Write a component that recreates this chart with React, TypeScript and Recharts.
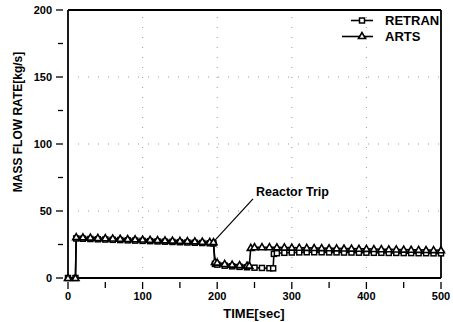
import { LineChart, Line, XAxis, YAxis, ReferenceLine, Label } from 'recharts';

const retranTime = [0, 10, 11, 20, 30, 40, 50, 60, 70, 80, 90, 100, 110, 120, 130, 140, 150, 160, 170, 180, 190, 195, 197, 200, 210, 220, 230, 240, 250, 260, 270, 275, 276, 280, 290, 300, 310, 320, 330, 340, 350, 360, 370, 380, 390, 400, 410, 420, 430, 440, 450, 460, 470, 480, 490, 500];
const retranFlow = [0, 0, 29.5, 29.3, 29.1, 28.9, 28.7, 28.5, 28.3, 28.1, 27.9, 27.7, 27.5, 27.3, 27.1, 26.9, 26.7, 26.5, 26.3, 26.1, 25.9, 25.8, 10.5, 10, 9.2, 8.7, 8.3, 8, 7.7, 7.5, 7.3, 7.2, 18, 18.5, 18.8, 19, 19.1, 19.2, 19.2, 19.2, 19.1, 19.1, 19, 19, 18.9, 18.9, 18.8, 18.8, 18.7, 18.7, 18.6, 18.6, 18.5, 18.5, 18.4, 18.4];

const artsTime = [0, 10, 11, 20, 30, 40, 50, 60, 70, 80, 90, 100, 110, 120, 130, 140, 150, 160, 170, 180, 190, 195, 197, 200, 210, 220, 230, 240, 243, 245, 250, 260, 270, 280, 290, 300, 310, 320, 330, 340, 350, 360, 370, 380, 390, 400, 410, 420, 430, 440, 450, 460, 470, 480, 490, 500];
const artsFlow = [0, 0, 30.5, 30.3, 30.1, 29.9, 29.7, 29.5, 29.3, 29.1, 28.9, 28.7, 28.5, 28.3, 28.1, 27.9, 27.7, 27.5, 27.3, 27.1, 26.9, 26.8, 12, 11.5, 10.5, 10, 9.6, 9.3, 9.2, 22.5, 23, 23, 23, 22.9, 22.8, 22.7, 22.6, 22.5, 22.4, 22.3, 22.2, 22.1, 22, 21.9, 21.8, 21.7, 21.6, 21.5, 21.4, 21.3, 21.2, 21.1, 21, 20.9, 20.8, 20.7];

const xTicks = [0, 50, 100, 150, 200, 250, 300, 350, 400, 450, 500];
const yTicks = [0, 25, 50, 75, 100, 125, 150, 175, 200];
const xGrid = [100, 200, 300, 400];
const yGrid = [50, 100, 150];

// annotation
const tripFrom = { x: 195, y: 27 };
const tripTo = { x: 248, y: 59 };

const retranData = retranTime.map((time, i) => ({ time, flow: retranFlow[i] }));
const artsData = artsTime.map((time, i) => ({ time, flow: artsFlow[i] }));

const FONT = '"Liberation Sans", Arial, sans-serif';

const SquareDot = (props: any) => {
  const { cx, cy, index } = props;
  if (cx == null || cy == null) return null;
  return <rect key={`s-${index}`} x={cx - 2.5} y={cy - 2.5} width={5} height={5} fill="#fff" stroke="#000" strokeWidth={1.5} />;
};

const TriangleDot = (props: any) => {
  const { cx, cy, index } = props;
  if (cx == null || cy == null) return null;
  return (
    <polygon
      key={`t-${index}`}
      points={`${cx},${cy - 3.5} ${cx - 3.5},${cy + 2.5} ${cx + 3.5},${cy + 2.5}`}
      fill="#fff"
      stroke="#000"
      strokeWidth={1.6}
    />
  );
};

const XTick = (props: any) => {
  const { x, y, payload } = props;
  const major = payload.value % 100 === 0;
  return (
    <g>
      <line x1={x} x2={x} y1={y - 4} y2={y + (major ? 3 : 2)} stroke="#000" strokeWidth={1.3} />
      {major && (
        <text x={x} y={y + 14} textAnchor="middle" fontFamily={FONT} fontWeight="bold" fontSize={11} fill="#000">
          {payload.value}
        </text>
      )}
    </g>
  );
};

const YTick = (props: any) => {
  const { x, y, payload } = props;
  const major = payload.value % 50 === 0;
  return (
    <g>
      <line x1={x - (major ? 4 : 2)} x2={x + 3} y1={y} y2={y} stroke="#000" strokeWidth={1.3} />
      {major && (
        <text x={x - 8} y={y + 4} textAnchor="end" fontFamily={FONT} fontWeight="bold" fontSize={11} fill="#000">
          {payload.value}
        </text>
      )}
    </g>
  );
};

export default function App() {
  return (
    <div style={{ position: 'absolute', left: 0, top: 0, width: 453, height: 322, background: '#fff' }}>
      <LineChart width={453} height={322} margin={{ top: 10, right: 12, bottom: 0, left: 0 }}>
        {xGrid.map((v) => (
          <ReferenceLine key={`gx${v}`} x={v} stroke="#999" strokeDasharray="1 9" />
        ))}
        {yGrid.map((v) => (
          <ReferenceLine key={`gy${v}`} y={v} stroke="#999" strokeDasharray="1 9" />
        ))}
        <ReferenceLine y={200} stroke="#000" strokeWidth={1.8} />
        <ReferenceLine x={500} stroke="#000" strokeWidth={1.8} />
        <XAxis
          dataKey="time"
          type="number"
          domain={[0, 500]}
          ticks={xTicks}
          interval={0}
          tick={<XTick />}
          tickLine={false}
          axisLine={{ stroke: '#000', strokeWidth: 1.8 }}
          height={44}
          allowDuplicatedCategory={false}
        >
          <Label
            content={() => (
              <text x={254} y={318} textAnchor="middle" fontFamily={FONT} fontWeight="bold" fontSize={13} fill="#000">
                TIME[sec]
              </text>
            )}
          />
        </XAxis>
        <YAxis
          type="number"
          domain={[0, 200]}
          ticks={yTicks}
          interval={0}
          tick={<YTick />}
          tickLine={false}
          axisLine={{ stroke: '#000', strokeWidth: 1.8 }}
          width={68}
        >
          <Label
            content={() => (
              <text
                x={22}
                y={122}
                transform="rotate(-90 22 122)"
                textAnchor="middle"
                fontFamily={FONT}
                fontWeight="bold"
                fontSize={12}
                fill="#000"
              >
                MASS FLOW RATE[kg/s]
              </text>
            )}
          />
        </YAxis>
        <Line
          data={retranData}
          dataKey="flow"
          type="linear"
          stroke="#000"
          strokeWidth={1.6}
          dot={<SquareDot />}
          activeDot={false}
          isAnimationActive={false}
        />
        <Line
          data={artsData}
          dataKey="flow"
          type="linear"
          stroke="#000"
          strokeWidth={1.6}
          dot={<TriangleDot />}
          activeDot={false}
          isAnimationActive={false}
        />
        <ReferenceLine
          segment={[tripFrom, tripTo]}
          stroke="#000"
          strokeWidth={1.2}
          ifOverflow="visible"
        />
      </LineChart>
      <div
        style={{
          position: 'absolute',
          left: 256,
          top: 185,
          fontFamily: FONT,
          fontWeight: 'bold',
          fontSize: 12.5,
          color: '#000',
          whiteSpace: 'nowrap',
        }}
      >
        Reactor Trip
      </div>
      <svg style={{ position: 'absolute', left: 0, top: 0 }} width={453} height={322}>
        <line x1={351} x2={373} y1={20.5} y2={20.5} stroke="#000" strokeWidth={1.6} />
        <rect x={359.5} y={18} width={5} height={5} fill="#fff" stroke="#000" strokeWidth={1.5} />
        <text x={385} y={25} fontFamily={FONT} fontWeight="bold" fontSize={13} fill="#000">
          RETRAN
        </text>
        <line x1={342} x2={373} y1={36.5} y2={36.5} stroke="#000" strokeWidth={1.6} />
        <polygon points="362,32.5 358.5,38.5 365.5,38.5" fill="#fff" stroke="#000" strokeWidth={1.6} />
        <text x={385} y={41} fontFamily={FONT} fontWeight="bold" fontSize={13} fill="#000">
          ARTS
        </text>
      </svg>
    </div>
  );
}
